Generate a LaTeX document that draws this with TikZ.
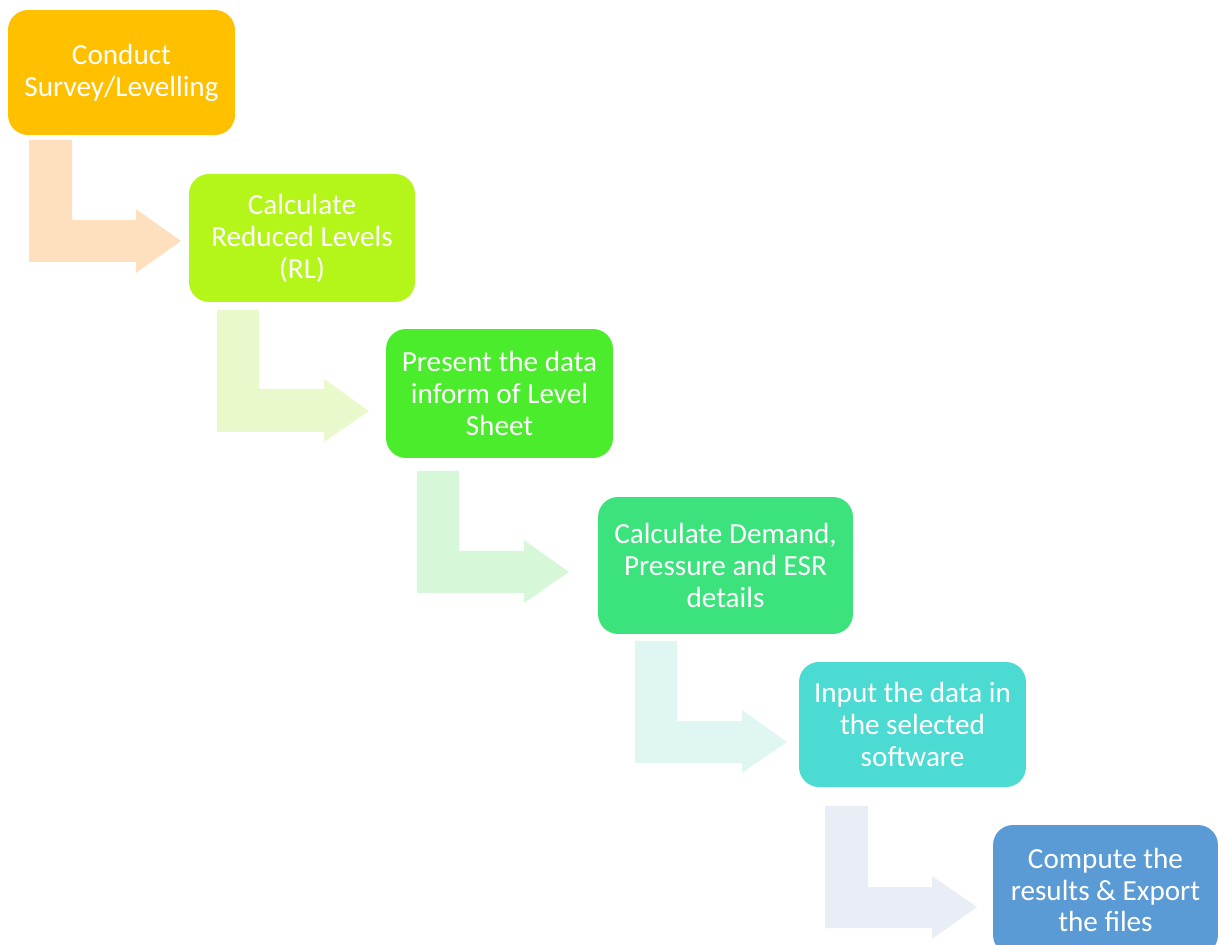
\documentclass[tikz,border=0pt]{standalone}
\usepackage{fontspec}
\setmainfont{Carlito}
\definecolor{c1}{HTML}{FFC000}
\definecolor{c2}{HTML}{B4F51A}
\definecolor{c3}{HTML}{4AEC2C}
\definecolor{c4}{HTML}{3CE37C}
\definecolor{c5}{HTML}{4BDBD2}
\definecolor{c6}{HTML}{5B9BD5}
\definecolor{a1}{HTML}{FFE0BE}
\definecolor{a2}{HTML}{EAF9CB}
\definecolor{a3}{HTML}{D6F7D8}
\definecolor{a4}{HTML}{E0F6F2}
\definecolor{a5}{HTML}{E9EDF6}
\begin{document}
\begin{tikzpicture}[x=0.02cm,y=-0.02cm,
  stepbox/.style={rectangle,rounded corners=0.4cm,text=white,align=center,
    font=\fontsize{16.6}{18.2}\selectfont,inner sep=0pt}]
\useasboundingbox (0,0) rectangle (1218,945);
\begin{scope}
\clip (0,0) rectangle (1218,945);
% bent arrows
\fill[a1] (29,140) -- (72,140) -- (72,220) -- (136,220) -- (136,209) -- (181,241) -- (136,273) -- (136,262) -- (29,262) -- cycle;
\fill[a2] (217,310) -- (259,310) -- (259,389) -- (324,389) -- (324,379) -- (369,411) -- (324,442) -- (324,432) -- (217,432) -- cycle;
\fill[a3] (417,471) -- (459,471) -- (459,551) -- (524,551) -- (524,540) -- (569,572) -- (524,603) -- (524,593) -- (417,593) -- cycle;
\fill[a4] (635,641) -- (677,641) -- (677,721) -- (742,721) -- (742,710) -- (787,742) -- (742,773) -- (742,763) -- (635,763) -- cycle;
\fill[a5] (825,806) -- (868,806) -- (868,887) -- (932,887) -- (932,876) -- (977,907) -- (932,939) -- (932,928) -- (825,928) -- cycle;
% boxes
\node[stepbox,fill=c1,minimum width=4.54cm,minimum height=2.50cm] (b1) at (121.5,72.5) {Conduct\\Survey/Levelling};
\node[stepbox,fill=c2,minimum width=4.52cm,minimum height=2.56cm] (b2) at (302,238) {Calculate\\Reduced Levels\\(RL)};
\node[stepbox,fill=c3,minimum width=4.54cm,minimum height=2.58cm] (b3) at (499.5,393.5) {Present the data\\inform of Level\\Sheet};
\node[stepbox,fill=c4,minimum width=5.10cm,minimum height=2.74cm] (b4) at (725.5,565.5) {Calculate Demand,\\Pressure and ESR\\details};
\node[stepbox,fill=c5,minimum width=4.54cm,minimum height=2.50cm] (b5) at (912.5,724.5) {Input the data in\\the selected\\software};
\node[stepbox,fill=c6,minimum width=4.50cm,minimum height=2.60cm] (b6) at (1105.5,890) {Compute the\\results \& Export\\the files};
\end{scope}
\end{tikzpicture}
\end{document}
